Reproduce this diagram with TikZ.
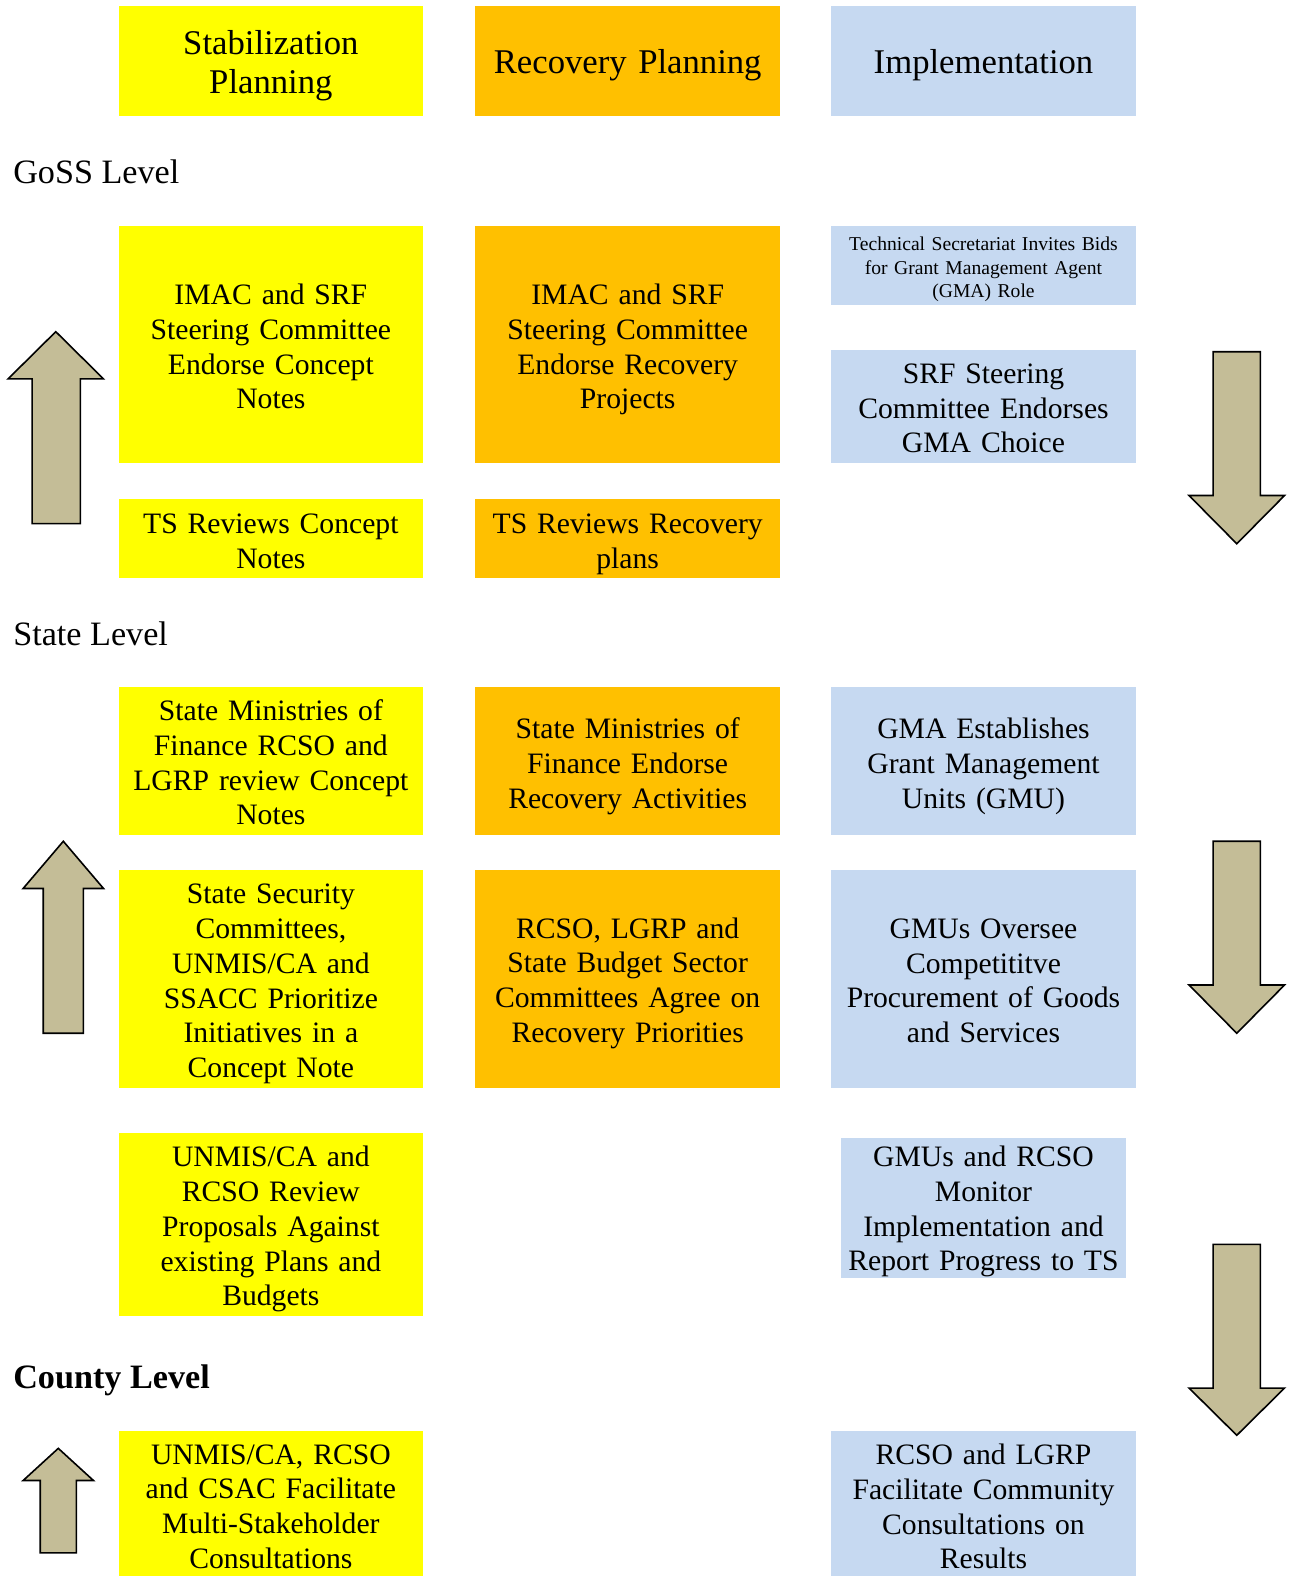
\documentclass[tikz,border=0pt]{standalone}
\usepackage{fontspec}
\setmainfont{Liberation Serif}
\definecolor{cyell}{HTML}{FFFF00}
\definecolor{corange}{HTML}{FFC000}
\definecolor{cblue}{HTML}{C6D9F1}
\definecolor{ctan}{HTML}{C4BD97}
\begin{document}
\begin{tikzpicture}[x=1pt,y=-1pt,
  boxbase/.style={rectangle, inner sep=0pt, minimum width=303pt},
  yel/.style={boxbase, fill=cyell},
  org/.style={boxbase, fill=corange},
  blu/.style={boxbase, fill=cblue},
  txt/.style={inner sep=0pt, align=center, text width=296pt, font=\fontsize{29.5}{34.5}\selectfont},
  head/.style={txt, font=\fontsize{34.5}{39}\selectfont},
  small/.style={txt, font=\fontsize{19.5}{23}\selectfont},
  lvl/.style={anchor=west, inner sep=0pt, font=\fontsize{34}{39}\selectfont},
  blockarrow/.style={fill=ctan, draw=black, line width=1.6pt, line join=miter}
]
\path[use as bounding box] (0,0) rectangle (1286,1568);

% header row
\node[yel, minimum height=109pt] (h1) at (269.5,60.5) {};
\node[org, minimum height=109pt] (h2) at (624.5,60.5) {};
\node[blu, minimum height=109pt] (h3) at (978.5,60.5) {};
\node[head] (h1t) at ([yshift=-5pt]h1.center) {Stabilization\\Planning};
\node[head] (h2t) at ([yshift=-4pt]h2.center) {Recovery Planning};
\node[head] (h3t) at ([yshift=-4pt]h3.center) {Implementation};

% level labels
\node[lvl] (goss) at (13,171) {GoSS Level};
\node[lvl] (state) at (13,631) {State Level};
\node[lvl, font=\fontsize{34}{39}\selectfont\bfseries] (county) at (13,1373) {County Level};

% GoSS row
\node[yel, minimum height=236pt] (a1) at (269.5,343) {};
\node[org, minimum height=236pt] (a2) at (624.5,343) {};
\node[blu, minimum height=78pt] (a3) at (978.5,264) {};
\node[blu, minimum height=113pt] (b3) at (978.5,404.5) {};
\node[yel, minimum height=79pt] (b1) at (269.5,535.5) {};
\node[org, minimum height=79pt] (b2) at (624.5,535.5) {};
\node[txt] (a1t) at ([yshift=-2pt]a1.center) {IMAC and SRF\\Steering Committee\\Endorse Concept\\Notes};
\node[txt] (a2t) at ([yshift=-5pt]a2.center) {IMAC and SRF\\Steering Committee\\Endorse Recovery\\Projects};
\node[small] (a3t) at ([yshift=-4pt]a3.center) {Technical Secretariat Invites Bids\\for Grant Management Agent\\(GMA) Role};
\node[txt] (b3t) at ([yshift=-2pt]b3.center) {SRF Steering\\Committee Endorses\\GMA Choice};
\node[txt] (b1t) at ([yshift=-3pt]b1.center) {TS Reviews Concept\\Notes};
\node[txt] (b2t) at ([yshift=-6pt]b2.center) {TS Reviews Recovery\\plans};

% State row
\node[yel, minimum height=147pt] (c1) at (269.5,757.5) {};
\node[org, minimum height=147pt] (c2) at (624.5,757.5) {};
\node[blu, minimum height=147pt] (c3) at (978.5,757.5) {};
\node[txt] (c1t) at ([yshift=-1pt]c1.center) {State Ministries of\\Finance RCSO and\\LGRP review Concept\\Notes};
\node[txt] (c2t) at ([yshift=-5pt]c2.center) {State Ministries of\\Finance Endorse\\Recovery Activities};
\node[txt] (c3t) at ([yshift=-5pt]c3.center) {GMA Establishes\\Grant Management\\Units (GMU)};

\node[yel, minimum height=216pt] (d1) at (269.5,974) {};
\node[org, minimum height=216pt] (d2) at (624.5,974) {};
\node[blu, minimum height=216pt] (d3) at (978.5,974) {};
\node[txt] (d1t) at ([yshift=-5pt]d1.center) {State Security\\Committees,\\UNMIS/CA and\\SSACC Prioritize\\Initiatives in a\\Concept Note};
\node[txt] (d2t) at ([yshift=-4pt]d2.center) {RCSO, LGRP and\\State Budget Sector\\Committees Agree on\\Recovery Priorities};
\node[txt] (d3t) at ([yshift=-2pt]d3.center) {GMUs Oversee\\Competititve\\Procurement of Goods\\and Services};

\node[yel, minimum height=182pt] (e1) at (269.5,1218) {};
\node[blu, minimum height=139pt, minimum width=284pt] (e3) at (978.5,1201.5) {};
\node[txt] (e1t) at ([yshift=-5pt]e1.center) {UNMIS/CA and\\RCSO Review\\Proposals Against\\existing Plans and\\Budgets};
\node[txt] (e3t) at ([yshift=-4pt]e3.center) {GMUs and RCSO\\Monitor\\Implementation and\\Report Progress to TS};

% County row
\node[yel, minimum height=144pt] (f1) at (269.5,1496) {};
\node[blu, minimum height=144pt] (f3) at (978.5,1496) {};
\node[txt] (f1t) at ([yshift=-3pt]f1.center) {UNMIS/CA, RCSO\\and CSAC Facilitate\\Multi-Stakeholder\\Consultations};
\node[txt] (f3t) at ([yshift=-3pt]f3.center) {RCSO and LGRP\\Facilitate Community\\Consultations on\\Results};

% up arrows
\draw[blockarrow] (32,521) -- (32,377) -- (8,377) -- (55.5,330) -- (103,377) -- (80,377) -- (80,521) -- cycle;
\draw[blockarrow] (43,1028) -- (43,884) -- (23,884) -- (63,837) -- (103,884) -- (83,884) -- (83,1028) -- cycle;
\draw[blockarrow] (40,1545) -- (40,1473) -- (23,1473) -- (58,1441) -- (93,1473) -- (76,1473) -- (76,1545) -- cycle;

% down arrows
\draw[blockarrow] (1207,350) -- (1207,493) -- (1183,493) -- (1230.5,541) -- (1278,493) -- (1254,493) -- (1254,350) -- cycle;
\draw[blockarrow] (1207,837) -- (1207,980) -- (1183,980) -- (1230.5,1028) -- (1278,980) -- (1254,980) -- (1254,837) -- cycle;
\draw[blockarrow] (1207,1238) -- (1207,1381) -- (1183,1381) -- (1230.5,1428) -- (1278,1381) -- (1254,1381) -- (1254,1238) -- cycle;
\end{tikzpicture}
\end{document}
